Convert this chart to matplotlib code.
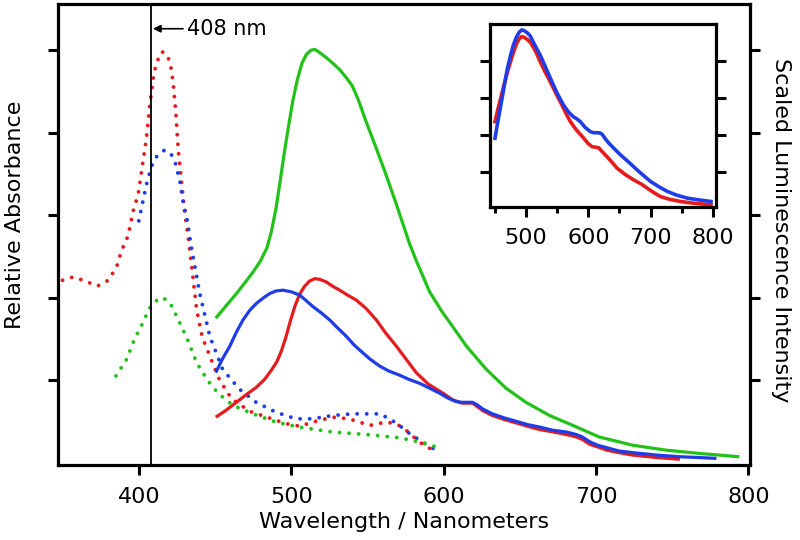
import matplotlib
matplotlib.use("Agg")
import matplotlib.pyplot as plt

plt.rcParams['font.family'] = ['DejaVu Sans']

RED = '#e61b1e'
BLUE = '#1f3de6'
GREEN = '#22c21a'

# ---------------- main chart data ----------------
abs_red_x = [350, 357, 363.5, 373, 380, 385.4, 388.7, 393, 396.3, 399.6, 401.8, 405, 407.2, 409.4,
             411, 412.7, 415, 417, 419, 421, 422.5, 424.3, 425.8, 428, 430, 432.3, 435, 438, 441.5,
             446.6, 453, 461, 473, 484, 497, 505.6, 514, 527, 538, 551.5, 562, 569, 575.5, 584,
             591, 595]
abs_red_y = [2.21, 2.25, 2.21, 2.14, 2.21, 2.37, 2.57, 2.75, 3.05, 3.25, 3.53, 3.93, 4.33, 4.65,
             4.8, 4.89, 4.98, 4.97, 4.93, 4.8, 4.61, 4.25, 3.81, 3.41, 3.05, 2.75, 2.33, 1.85, 1.53,
             1.29, 1.0, 0.77, 0.62, 0.55, 0.47, 0.44, 0.49, 0.55, 0.53, 0.45, 0.49, 0.47, 0.39, 0.25,
             0.17, 0.11]

abs_blue_x = [400, 405, 408.5, 412, 417, 421.5, 424, 427, 429, 431.5, 434.5, 440, 446.6, 455, 466,
              477, 490, 503, 514, 527, 540, 558, 564.6, 571, 577.7, 586, 595]
abs_blue_y = [2.93, 3.37, 3.6, 3.72, 3.79, 3.73, 3.63, 3.41, 3.17, 2.97, 2.61, 2.05, 1.53, 1.13, 0.89,
              0.73, 0.61, 0.53, 0.53, 0.57, 0.59, 0.59, 0.53, 0.45, 0.35, 0.25, 0.15]

abs_green_x = [385, 392, 397, 402, 407, 412, 416, 421, 427, 432, 438, 445, 452, 462, 475, 490, 505,
               527, 549, 571, 584, 595]
abs_green_y = [1.05, 1.25, 1.49, 1.67, 1.87, 1.97, 2.0, 1.92, 1.69, 1.49, 1.21, 1.0, 0.84, 0.69, 0.59,
               0.49, 0.43, 0.37, 0.34, 0.30, 0.25, 0.19]

lum_green_x = [450.5, 455, 460, 465, 470, 475, 480, 484, 487, 490, 492.5, 495, 498, 501, 504, 507,
               510, 513, 515.5, 518, 523, 528, 532, 536, 540, 544, 549, 556, 562, 569, 577.7, 582,
               590.8, 599.6, 604, 615, 628, 641, 654, 669.5, 684.8, 702, 724, 746, 768, 794]
lum_green_y = [1.75, 1.85, 1.96, 2.07, 2.19, 2.31, 2.45, 2.6, 2.8, 3.08, 3.38, 3.7, 4.05, 4.38, 4.64,
               4.84, 4.95, 5.0, 5.01, 4.98, 4.91, 4.83, 4.76, 4.67, 4.57, 4.4, 4.14, 3.8, 3.5, 3.13,
               2.65, 2.45, 2.07, 1.81, 1.7, 1.41, 1.13, 0.9, 0.73, 0.57, 0.45, 0.31, 0.21, 0.15,
               0.11, 0.07]

lum_red_x = [450.5, 457, 464, 471, 477, 482.6, 487, 490.5, 493.5, 496.5, 499.5, 502.5, 505.5, 508.5,
             512, 515.4, 519, 523, 527, 531.8, 537, 542.7, 549, 555.8, 562, 569, 575.5, 582, 590,
             599.6, 606, 612, 619, 625.6, 632, 640, 647.6, 655, 663, 672, 680.5, 687, 691, 696,
             701, 707, 715, 724, 740, 755]
lum_red_y = [0.55, 0.63, 0.73, 0.83, 0.91, 1.01, 1.12, 1.22, 1.35, 1.52, 1.72, 1.9, 2.04, 2.13,
             2.2, 2.23, 2.22, 2.19, 2.14, 2.09, 2.03, 1.97, 1.87, 1.73, 1.57, 1.41, 1.25, 1.09,
             0.95, 0.84, 0.76, 0.72, 0.72, 0.63, 0.57, 0.52, 0.48, 0.44, 0.40, 0.37, 0.34, 0.31,
             0.28, 0.22, 0.19, 0.15, 0.12, 0.09, 0.06, 0.04]

lum_blue_x = [450.5, 455, 459.7, 464, 468.4, 473, 477.2, 482, 486, 490, 494.6, 500, 505.6, 510,
              514.3, 520, 525.2, 530, 536.2, 541, 547, 552, 558, 564, 571, 577, 584.3, 591, 597.4,
              603, 608, 612, 619, 622, 625.6, 632, 640, 647.6, 655, 663, 672, 680.5, 687, 691, 696,
              701, 707, 715, 724, 740, 755, 768, 779]
lum_blue_y = [1.09, 1.26, 1.41, 1.58, 1.73, 1.85, 1.93, 2.0, 2.05, 2.08, 2.09, 2.07, 2.03, 1.96,
              1.89, 1.81, 1.73, 1.64, 1.53, 1.43, 1.33, 1.25, 1.17, 1.11, 1.06, 1.01, 0.96, 0.9,
              0.84, 0.78, 0.74, 0.73, 0.73, 0.70, 0.65, 0.59, 0.54, 0.50, 0.46, 0.43, 0.39, 0.37,
              0.34, 0.31, 0.25, 0.21, 0.18, 0.14, 0.12, 0.09, 0.07, 0.06, 0.05]

main_xticks = [400, 500, 600, 700, 800]
main_yticks = [1, 2, 3, 4, 5]

# ---------------- inset data ----------------
ins_red_x = [450, 455, 460, 465, 470, 475, 480, 485, 489, 493, 497, 502, 507, 515, 522.6, 530,
             538.7, 548, 557.5, 564, 571, 580, 592.5, 600, 606, 611, 616.6, 622, 630, 638, 646,
             660, 673, 684, 694.6, 705, 716, 730, 748, 770, 797]
ins_red_y = [2.36, 2.72, 3.05, 3.38, 3.7, 3.98, 4.25, 4.48, 4.6, 4.66, 4.64, 4.58, 4.5, 4.27, 3.98,
             3.72, 3.44, 3.12, 2.81, 2.58, 2.36, 2.15, 1.91, 1.76, 1.68, 1.67, 1.65, 1.55, 1.41,
             1.26, 1.1, 0.92, 0.78, 0.68, 0.56, 0.44, 0.33, 0.26, 0.2, 0.15, 0.11]
ins_blue_x = [450, 454, 458, 462, 466, 470, 475, 479.5, 484, 489, 493, 497, 502, 506.5, 514, 522.6,
              532, 541.4, 550, 560, 568, 576, 581, 587, 595, 603, 608, 613, 619, 622, 627, 632.7,
              642, 651.6, 665, 678.5, 690, 700, 713, 727, 742, 759, 778, 797]
ins_blue_y = [1.91, 2.3, 2.68, 3.05, 3.44, 3.8, 4.15, 4.43, 4.63, 4.78, 4.84, 4.82, 4.76, 4.68,
              4.43, 4.16, 3.8, 3.44, 3.12, 2.81, 2.62, 2.49, 2.44, 2.36, 2.2, 2.09, 2.06, 2.06,
              2.05, 2.02, 1.9, 1.78, 1.62, 1.46, 1.26, 1.05, 0.88, 0.74, 0.6, 0.47, 0.37, 0.29,
              0.24, 0.2]
ins_xticks = [500, 600, 700, 800]
ins_xminor = [450, 550, 650, 750]
ins_yticks = [1, 2, 3, 4]

fig = plt.figure(figsize=(8, 5.4), dpi=100)
ax = fig.add_axes([58 / 800, 1 - 465 / 540, 692 / 800, 461 / 540])

dot = (0, (0.01, 2.45))
lw_dot = 2.8
lw_line = 2.3
ax.plot(abs_red_x, abs_red_y, color=RED, lw=lw_dot, linestyle=dot, dash_capstyle='round')
ax.plot(abs_blue_x, abs_blue_y, color=BLUE, lw=lw_dot, linestyle=dot, dash_capstyle='round')
ax.plot(abs_green_x, abs_green_y, color=GREEN, lw=lw_dot, linestyle=dot, dash_capstyle='round')
ax.plot(lum_green_x, lum_green_y, color=GREEN, lw=lw_line, solid_capstyle='butt',
        solid_joinstyle='round')
ax.plot(lum_red_x, lum_red_y, color=RED, lw=lw_line, solid_capstyle='butt',
        solid_joinstyle='round')
ax.plot(lum_blue_x, lum_blue_y, color=BLUE, lw=lw_line, solid_capstyle='butt',
        solid_joinstyle='round')

ax.axvline(408, color='black', lw=1.3)
ax.annotate('', xy=(409.3, 5.26), xytext=(429, 5.26),
            arrowprops=dict(arrowstyle='-|>', color='black', lw=1.2, mutation_scale=11,
                            shrinkA=0, shrinkB=0))
ax.text(431.5, 5.26, '408 nm', va='center', ha='left', fontsize=15)

ax.set_xlim(347, 801)
ax.set_ylim(-0.03, 5.56)
ax.set_xticks(main_xticks)
ax.set_yticks(main_yticks)
ax.tick_params(axis='both', direction='out', width=2.2, length=7, labelsize=16)
ax.tick_params(axis='x', pad=9)
ax.tick_params(axis='y', left=True, right=True, labelleft=False, labelright=False)
for s in ax.spines.values():
    s.set_linewidth(2.3)

fig.text(404 / 800, 1 - 522 / 540, 'Wavelength / Nanometers', ha='center', va='center', fontsize=16)
fig.text(15 / 800, 1 - 215 / 540, 'Relative Absorbance', ha='center', va='center',
         rotation=90, fontsize=16)
fig.text(781 / 800, 1 - 230 / 540, 'Scaled Luminescence Intensity', ha='center', va='center',
         rotation=270, fontsize=16)

# inset
axi = fig.add_axes([490 / 800, 1 - 207 / 540, 226 / 800, 183 / 540])
axi.plot(ins_red_x, ins_red_y, color=RED, lw=2.6, solid_joinstyle='round')
axi.plot(ins_blue_x, ins_blue_y, color=BLUE, lw=2.6, solid_joinstyle='round')
axi.set_xlim(442, 805)
axi.set_ylim(0.05, 5.0)
axi.set_xticks(ins_xticks)
axi.set_xticks(ins_xminor, minor=True)
axi.set_yticks(ins_yticks)
axi.tick_params(axis='both', which='major', direction='out', width=2.2, length=7, labelsize=16)
axi.tick_params(axis='x', which='minor', direction='out', width=2.2, length=4)
axi.tick_params(axis='x', pad=8)
axi.tick_params(axis='y', left=True, right=True, labelleft=False, labelright=False)
for s in axi.spines.values():
    s.set_linewidth(2.3)

fig.savefig('out.png', dpi=100)
